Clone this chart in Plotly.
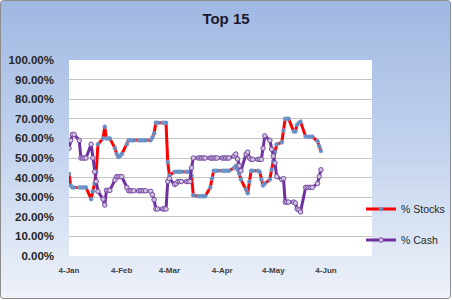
import base64
import pandas as pd
import plotly.graph_objects as go

# Trading days (weekdays) from 4-Jan to 1-Jun
dates = pd.bdate_range("2011-01-04", "2011-06-01")

# % Stocks, by month
stocks_jan = [42, 36, 35, 35, 35, 35, 35, 35, 35, 29, 33, 37, 43, 57, 60, 66, 60, 60, 60, 55]
stocks_feb = [52, 50.5, 51, 52, 57, 59, 59, 59, 59, 59, 59, 59, 59, 59, 59, 60.5, 62.5, 68, 68, 68]
stocks_mar = [68, 68, 48, 41, 43, 43, 43, 43, 43, 43, 43, 43, 41, 31, 30.5, 30.5, 30.5, 30.5, 30.5,
              35, 39.5, 43.5, 43.5]
stocks_apr = [43.5, 43.5, 43.5, 43.5, 43.5, 43.5, 45, 46, 44, 42, 39, 34, 32, 38, 43.5, 43.5, 43.5,
              43, 39, 36, 37]
stocks_may = [39, 44, 48.5, 53, 57, 58, 64, 70, 70, 70, 63.5, 63.5, 67, 68, 68.5, 61, 60.8, 60.8,
              60.8, 60.8, 58.5, 56]
stocks_jun = [53.6]

# % Cash, by month
cash_jan = [55, 59, 62, 62, 59, 50, 50, 50, 50, 57, 50, 43, 38, 33, 29, 26, 33.5, 33.5, 33.5, 38.8]
cash_feb = [40.5, 40.5, 40.5, 40.5, 35, 33.3, 33.3, 33.3, 33.3, 33.3, 33.3, 33.3, 33.3, 33.3, 33,
            31.3, 28.7, 24, 24, 24]
cash_mar = [24, 24, 38, 39.5, 36.5, 37, 38, 38, 38, 38, 38, 38, 45, 50, 50, 50, 50, 50, 50, 50, 50,
            50, 50]
cash_apr = [50, 50, 50, 50, 50, 50, 51, 52, 49.5, 46, 43.5, 52, 53, 50, 49.3, 49.3, 49.3, 49.3, 49.3,
            55, 61.3]
cash_may = [59, 54.5, 51, 47.5, 40.5, 39, 39.5, 27.5, 27.5, 27.5, 27.5, 27, 24, 23.5, 22.5, 35, 35,
            35, 35, 35, 37, 40.5]
cash_jun = [44]

stocks = stocks_jan + stocks_feb + stocks_mar + stocks_apr + stocks_may + stocks_jun
cash = cash_jan + cash_feb + cash_mar + cash_apr + cash_may + cash_jun

tick_dates = ["2011-01-04", "2011-02-04", "2011-03-04", "2011-04-04", "2011-05-04", "2011-06-04"]
tick_labels = ["4-Jan", "4-Feb", "4-Mar", "4-Apr", "4-May", "4-Jun"]
y_ticks = [0, 10, 20, 30, 40, 50, 60, 70, 80, 90, 100]
y_labels = ["0.00%", "10.00%", "20.00%", "30.00%", "40.00%", "50.00%", "60.00%", "70.00%",
            "80.00%", "90.00%", "100.00%"]

W, H = 452, 300
L, R, T, B = 69, 80, 60, 44
pw, ph = W - L - R, H - T - B

svg = (
    "<svg xmlns='http://www.w3.org/2000/svg' width='452' height='300' viewBox='0 0 452 300'>"
    "<defs><linearGradient id='g' x1='0' y1='0' x2='0' y2='1'>"
    "<stop offset='0' stop-color='#9fb8e2'/><stop offset='0.5' stop-color='#c3d3ee'/>"
    "<stop offset='1' stop-color='#eef2f9'/></linearGradient></defs>"
    "<rect x='0.5' y='0.5' width='450' height='298' rx='3' fill='url(#g)' stroke='#8c8c8c'/></svg>"
)
bg_uri = "data:image/svg+xml;base64," + base64.b64encode(svg.encode()).decode()

fig = go.Figure()
fig.add_trace(go.Scatter(
    x=dates, y=stocks, name="% Stocks", mode="lines+markers", legendgroup="s",
    line=dict(color="#ff0000", width=3),
    marker=dict(symbol="circle", size=4, color="#5b8cc8", line=dict(color="#8fa8c8", width=0.5)),
))
fig.add_trace(go.Scatter(
    x=dates, y=cash, name="% Cash", mode="lines+markers", legendgroup="c",
    line=dict(color="#7030a0", width=3),
    marker=dict(symbol="circle", size=4.5, color="#cfc6dc", line=dict(color="#7a4aa8", width=1)),
))

fig.update_layout(
    width=W, height=H,
    margin=dict(l=L, r=R, t=T, b=B, pad=0, autoexpand=False),
    paper_bgcolor="#ffffff",
    plot_bgcolor="#ffffff",
    title=dict(text="<b>Top 15</b>", x=0.5, xanchor="center", xref="container",
               y=1 - 19 / H, yanchor="middle", yref="container",
               font=dict(family="Liberation Sans", size=15, color="#1a1a2e")),
    showlegend=True,
    legend=dict(x=361 / W, xanchor="left", xref="container",
                y=1 - 224.5 / H, yanchor="middle", yref="container",
                bgcolor="rgba(0,0,0,0)", traceorder="grouped", tracegroupgap=12,
                itemwidth=30,
                font=dict(family="Liberation Sans", size=10.5, color="#262626")),
    xaxis=dict(type="date", range=["2011-01-04", "2011-07-01"], automargin=False,
               tickvals=tick_dates, ticktext=tick_labels, showgrid=False,
               zeroline=False, showline=False, ticks="", ticklabelstandoff=8,
               tickfont=dict(family="Liberation Sans", size=8, color="#404040", weight="bold")),
    yaxis=dict(range=[0, 100], tickvals=y_ticks, ticktext=y_labels, automargin=False,
               showgrid=True, gridcolor="#c4c4c4", gridwidth=1, zeroline=False,
               showline=False, ticks="", ticklabelstandoff=14,
               tickfont=dict(family="Liberation Sans", size=11.5, color="#262626", weight="bold")),
    images=[dict(source=bg_uri, xref="paper", yref="paper", x=-L / pw, y=(H - B) / ph,
                 sizex=W / pw, sizey=H / ph, sizing="stretch", xanchor="left", yanchor="top",
                 layer="below")],
    shapes=[dict(type="rect", xref="paper", yref="paper", x0=0, x1=1, y0=0, y1=1,
                 fillcolor="#ffffff", line=dict(width=0), layer="below")],
)

fig.write_html("out.html")
